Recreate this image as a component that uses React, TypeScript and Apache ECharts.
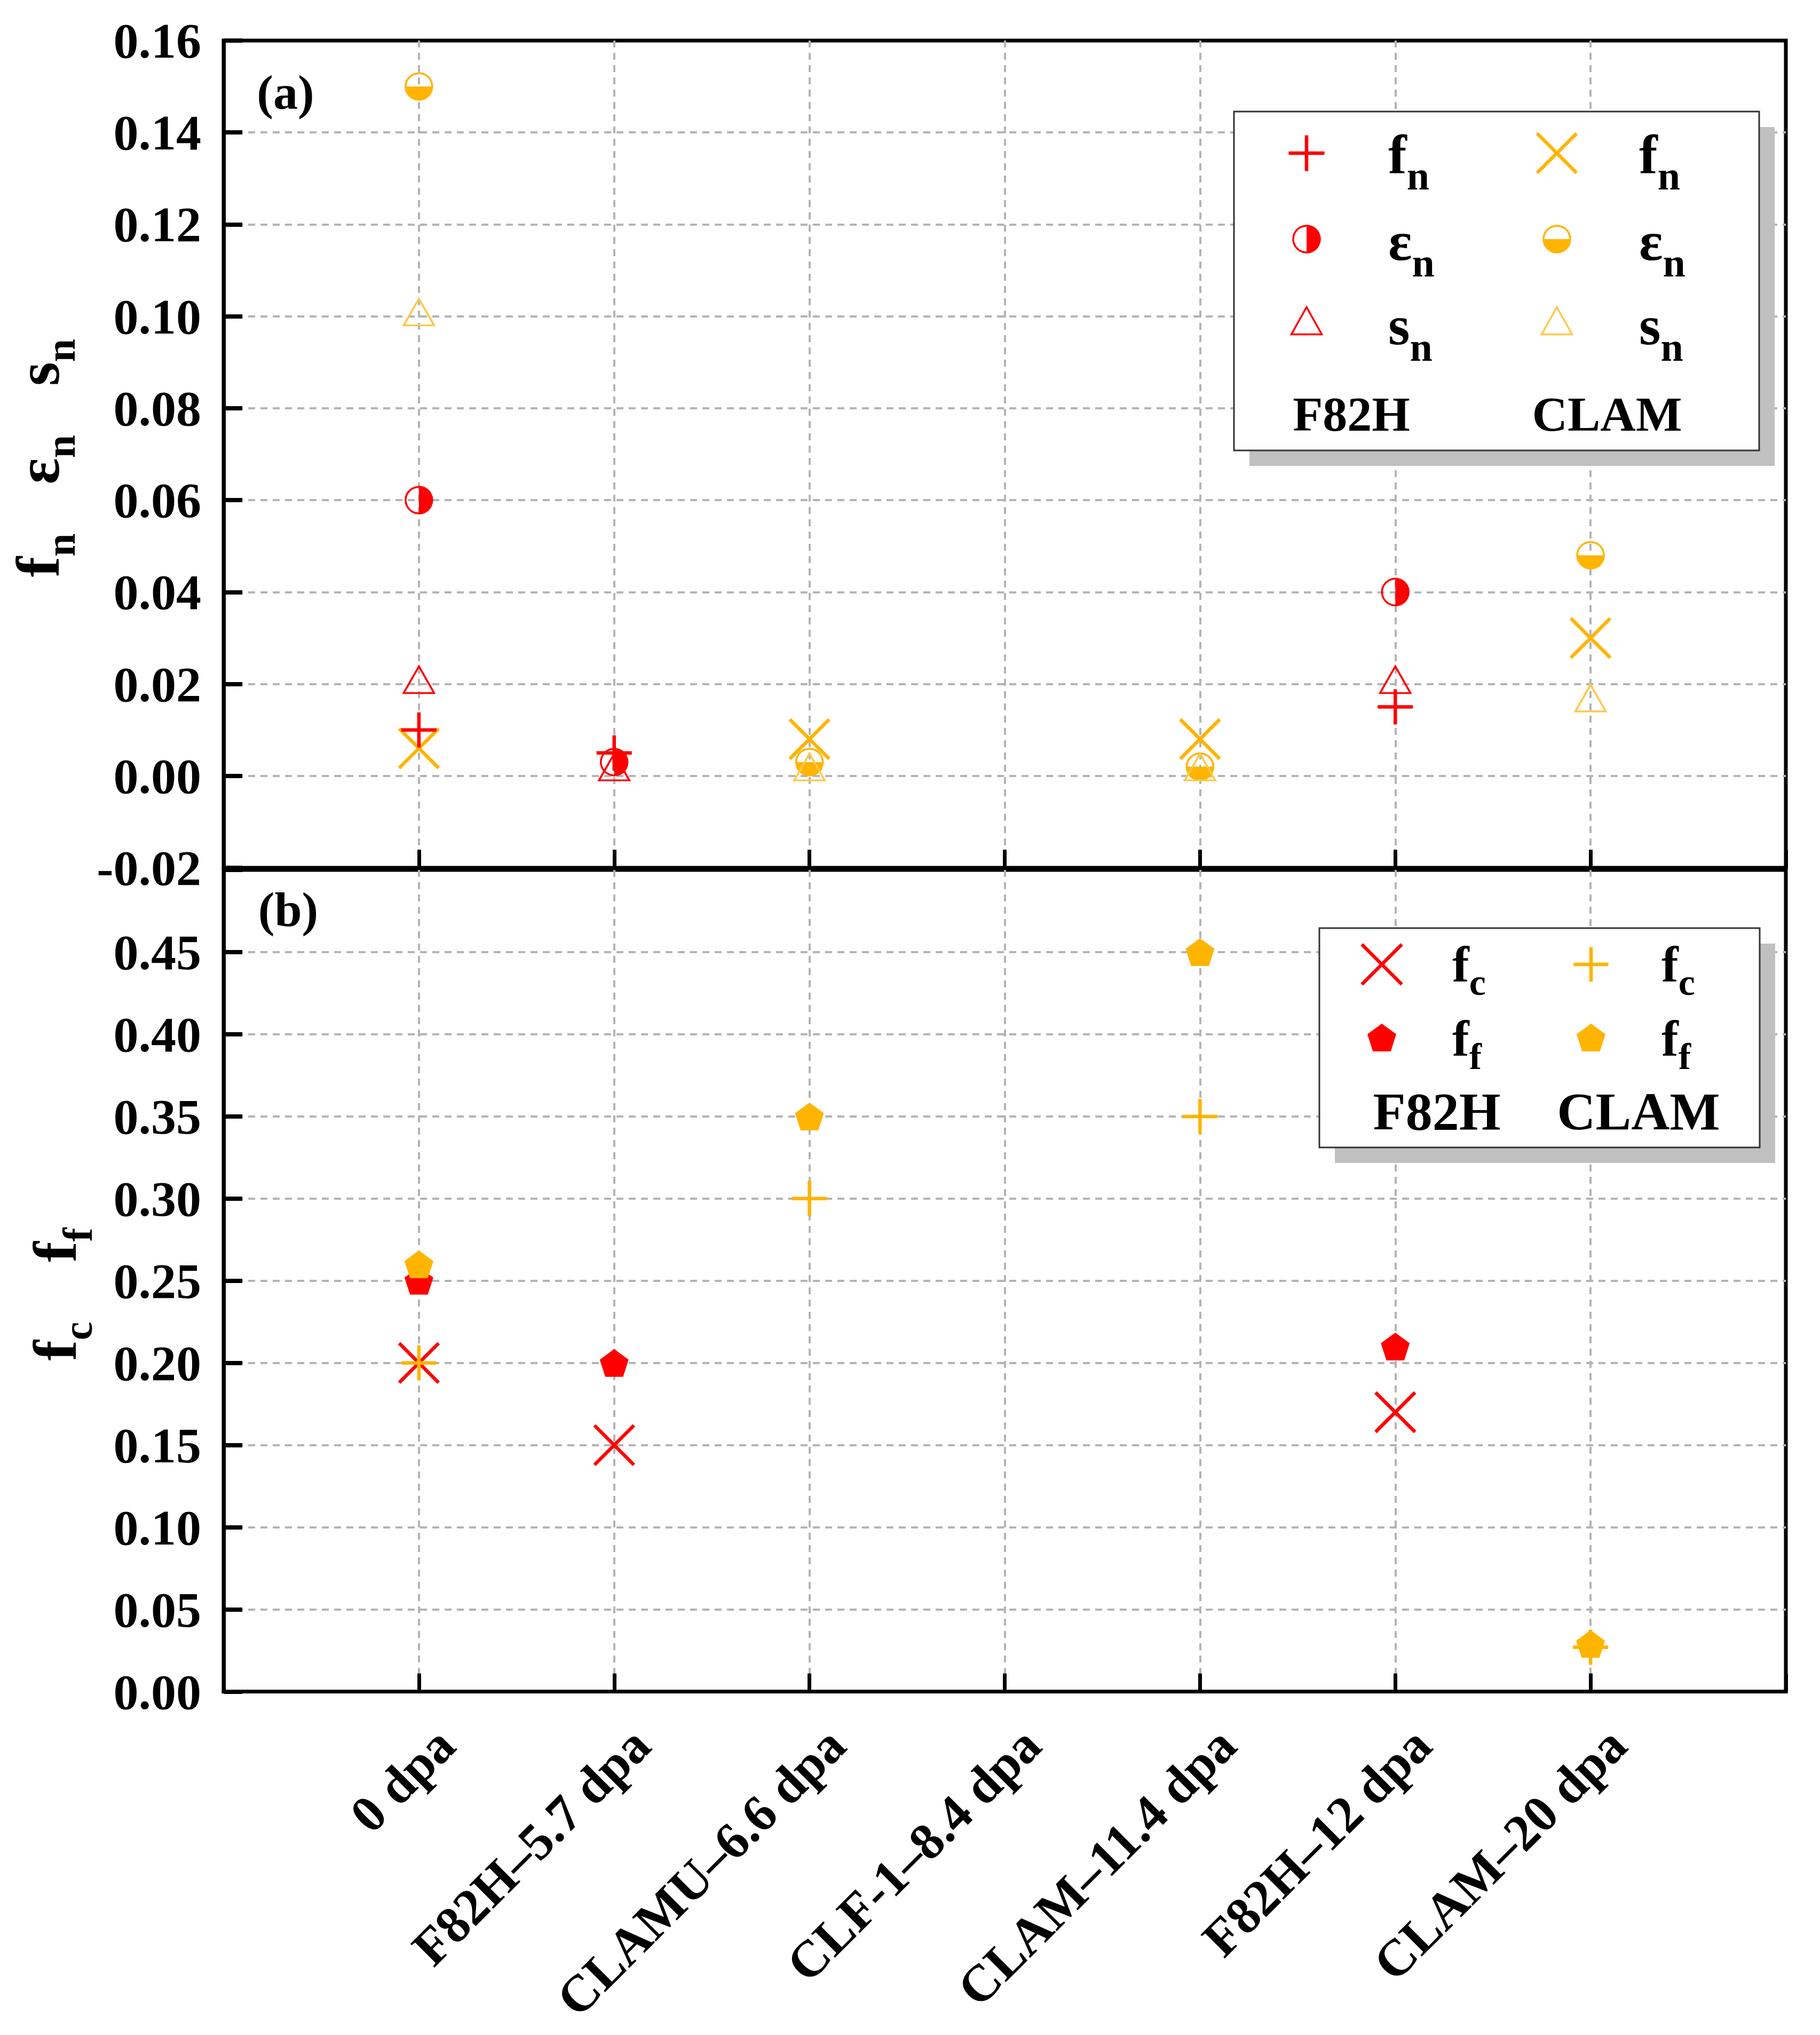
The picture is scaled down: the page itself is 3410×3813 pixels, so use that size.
"use client";
import React, { useEffect, useRef } from "react";
import * as echarts from "echarts";

const categories = [
  "0 dpa",
  "F82H\u20135.7 dpa",
  "CLAMU\u20136.6 dpa",
  "CLF-1\u20138.4 dpa",
  "CLAM\u201311.4 dpa",
  "F82H\u201312 dpa",
  "CLAM\u201320 dpa",
];

// panel (a) - null where there is no measurement
const f82hFn = [0.01, 0.005, null, null, null, 0.015, null];
const f82hEn = [0.06, 0.003, null, null, null, 0.04, null];
const f82hSn = [0.02, 0.001, null, null, null, 0.02, null];
const clamFn = [0.006, null, 0.008, null, 0.008, null, 0.03];
const clamEn = [0.15, null, 0.003, null, 0.002, null, 0.048];
const clamSn = [0.1, null, 0.001, null, 0.001, null, 0.016];

// panel (b)
const f82hFc = [0.2, 0.15, null, null, null, 0.17, null];
const f82hFf = [0.25, 0.2, null, null, null, 0.21, null];
const clamFc = [0.2, null, 0.3, null, 0.35, null, 0.027];
const clamFf = [0.26, null, 0.35, null, 0.45, null, 0.029];

const yRangeA = [-0.02, 0.16, 0.02];
const yRangeB = [0, 0.5, 0.05];

const RED = "#ff0000";
const ORANGE = "#ffb400";
const ORANGE_LIGHT = "#ffc84a";
const SERIF = "'Liberation Serif', 'Times New Roman', serif";

const PLUS = "path://M0,-1L0,1M-1,0L1,0";
const CROSS = "path://M-1,-1L1,1M-1,1L1,-1";
const TRI = "path://M0,-1L1,1L-1,1Z";
const PENTA = "path://M0,-1L0.951,-0.309L0.588,0.809L-0.588,0.809L-0.951,-0.309Z";

const toPoints = (vals: (number | null)[]) =>
  vals.map((v, i) => (v == null ? null : [i + 1, v])).filter((p) => p !== null);

const stroked = (color: string, width: number) => ({
  color: "rgba(0,0,0,0)",
  borderColor: color,
  borderWidth: width,
  opacity: 1,
});

function scatter(data: (number | null)[], gi: number, symbol: string, size: any, itemStyle: any, extra: any = {}) {
  return {
    type: "scatter",
    xAxisIndex: gi,
    yAxisIndex: gi,
    data: toPoints(data),
    symbol,
    symbolSize: size,
    itemStyle,
    silent: true,
    ...extra,
  };
}

// half filled circle, filled from start to end angle
function halfCircle(data: (number | null)[], color: string, start: number, end: number) {
  return {
    type: "custom",
    xAxisIndex: 0,
    yAxisIndex: 0,
    encode: { x: 0, y: 1 },
    data: toPoints(data),
    silent: true,
    renderItem: (_p: any, api: any) => {
      const c = api.coord([api.value(0), api.value(1)]);
      return {
        type: "group",
        children: [
          { type: "sector", shape: { cx: c[0], cy: c[1], r0: 0, r: 25, startAngle: start, endAngle: end }, style: { fill: color } },
          { type: "circle", shape: { cx: c[0], cy: c[1], r: 25 }, style: { fill: "none", stroke: color, lineWidth: 3.5 } },
        ],
      };
    },
  };
}

// ---- legend helpers (graphic) ----
const Z = 100;
const lineEl = (x1: number, y1: number, x2: number, y2: number, color: string, w: number) => ({
  type: "line",
  z: Z + 2,
  shape: { x1, y1, x2, y2 },
  style: { stroke: color, lineWidth: w },
});
const plusEl = (cx: number, cy: number, s: number, color: string) => [
  lineEl(cx - s / 2, cy, cx + s / 2, cy, color, 6.5),
  lineEl(cx, cy - s / 2, cx, cy + s / 2, color, 6.5),
];
const crossEl = (cx: number, cy: number, s: number, color: string) => [
  lineEl(cx - s / 2, cy - s / 2, cx + s / 2, cy + s / 2, color, 6.5),
  lineEl(cx - s / 2, cy + s / 2, cx + s / 2, cy - s / 2, color, 6.5),
];
const halfEl = (cx: number, cy: number, color: string, start: number, end: number) => [
  { type: "sector", z: Z + 2, shape: { cx, cy, r0: 0, r: 25, startAngle: start, endAngle: end }, style: { fill: color } },
  { type: "circle", z: Z + 2, shape: { cx, cy, r: 25 }, style: { fill: "none", stroke: color, lineWidth: 3.5 } },
];
const triEl = (cx: number, cy: number, w: number, h: number, color: string) => ({
  type: "polygon",
  z: Z + 2,
  shape: { points: [[cx, cy - h / 2], [cx + w / 2, cy + h / 2], [cx - w / 2, cy + h / 2]] },
  style: { fill: "none", stroke: color, lineWidth: 3.5 },
});
const pentaEl = (cx: number, cy: number, w: number, h: number, color: string) => {
  const unit = [[0, -1], [0.951, -0.309], [0.588, 0.809], [-0.588, 0.809], [-0.951, -0.309]];
  return {
    type: "polygon",
    z: Z + 2,
    shape: { points: unit.map(([px, py]) => [cx + (px * w) / 1.902, cy + ((py + 0.0955) * h) / 1.809]) },
    style: { fill: color },
  };
};

const legendRichA = {
  m: { fontFamily: SERIF, fontWeight: "bold", fontSize: 104, lineHeight: 157, verticalAlign: "middle", fill: "#000" },
  s: { fontFamily: SERIF, fontWeight: "bold", fontSize: 76, lineHeight: 76, verticalAlign: "bottom", fill: "#000" },
};
const legendRichB = {
  m: { fontFamily: SERIF, fontWeight: "bold", fontSize: 95, lineHeight: 137, verticalAlign: "middle", fill: "#000" },
  s: { fontFamily: SERIF, fontWeight: "bold", fontSize: 70, lineHeight: 70, verticalAlign: "bottom", fill: "#000" },
};
const titleRich = {
  m: { fontFamily: SERIF, fontWeight: "bold", fontSize: 115, lineHeight: 163, verticalAlign: "middle", fill: "#000" },
  s: { fontFamily: SERIF, fontWeight: "bold", fontSize: 78, lineHeight: 78, verticalAlign: "bottom", fill: "#000" },
  g: { width: 92, fontSize: 115, lineHeight: 163 },
  h: { width: 112, fontSize: 115, lineHeight: 163 },
};

const subText = (x: number, y: number, main: string, sub: string, rich: any) => ({
  type: "text",
  z: Z + 2,
  x,
  y,
  style: { text: `{m|${main}}{s|${sub}}`, rich, align: "left", verticalAlign: "middle" },
});
const plainText = (x: number, y: number, text: string, size: number) => ({
  type: "text",
  z: Z + 2,
  x,
  y,
  style: { text, fontFamily: SERIF, fontWeight: "bold", fontSize: size, fill: "#000", align: "center", verticalAlign: "middle" },
});
const legendBox = (x: number, y: number, w: number, h: number) => [
  { type: "rect", z: Z, shape: { x: x + 29, y: y + 29, width: w, height: h }, style: { fill: "#c0c0c0" } },
  { type: "rect", z: Z + 1, shape: { x, y, width: w, height: h }, style: { fill: "#fff", stroke: "#333", lineWidth: 3 } },
];

export default function App() {
  const ref = useRef<HTMLDivElement | null>(null);

  useEffect(() => {
    document.body.style.margin = "0";
    if (!ref.current) return;
    const chart = echarts.init(ref.current, undefined, { renderer: "svg" });

    const labelFont = { fontFamily: SERIF, fontWeight: "bold" as const, fontSize: 94, color: "#000" };
    const splitLine = {
      show: true,
      showMinLine: false,
      showMaxLine: false,
      lineStyle: { type: [13, 10], color: "#b4b4b4", width: 4 },
    };
    const xAxisBase = (gi: number) => ({
      type: "value",
      gridIndex: gi,
      min: 0,
      max: 8,
      interval: 1,
      axisLine: { show: true, onZero: false, lineStyle: { color: "#000", width: 7 } },
      axisTick: { show: true, inside: true, length: 34, lineStyle: { color: "#000", width: 7 } },
      splitLine,
    });
    const yAxisBase = (gi: number, r: number[], fmt: (v: number) => string) => ({
      type: "value",
      gridIndex: gi,
      min: r[0],
      max: r[1],
      interval: r[2],
      axisLine: { show: true, onZero: false, lineStyle: { color: "#000", width: 7 } },
      axisTick: { show: true, inside: true, length: 35, lineStyle: { color: "#000", width: 8 } },
      axisLabel: { ...labelFont, margin: 42, formatter: fmt },
      splitLine,
    });
    const fmt2 = (v: number) => (Math.abs(v) < 1e-9 ? "0.00" : v.toFixed(2));

    const graphic: any[] = [
      ...legendBox(2312, 209, 984, 635),
      ...plusEl(2448, 287, 67, RED),
      ...crossEl(2917, 287, 74, ORANGE),
      ...halfEl(2448, 448, RED, -Math.PI / 2, Math.PI / 2),
      ...halfEl(2917, 448, ORANGE, 0, Math.PI),
      triEl(2448, 601, 57, 51, RED),
      triEl(2917, 601, 57, 51, ORANGE_LIGHT),
      subText(2601, 288, "f", "n", legendRichA),
      subText(3071, 288, "f", "n", legendRichA),
      subText(2601, 451, "\u03b5", "n", legendRichA),
      subText(3071, 451, "\u03b5", "n", legendRichA),
      subText(2601, 609, "s", "n", legendRichA),
      subText(3071, 609, "s", "n", legendRichA),
      plainText(2532, 776, "F82H", 92),
      plainText(3011, 776, "CLAM", 92),

      ...legendBox(2472, 1739, 825, 411),
      ...crossEl(2589, 1807, 75, RED),
      ...plusEl(2981, 1807, 65, ORANGE),
      pentaEl(2589, 1944, 54, 52, RED),
      pentaEl(2981, 1944, 54, 52, ORANGE),
      subText(2721, 1807, "f", "c", legendRichB),
      subText(3113, 1807, "f", "c", legendRichB),
      subText(2721, 1946, "f", "f", legendRichB),
      subText(3113, 1946, "f", "f", legendRichB),
      plainText(2692, 2082, "F82H", 100),
      plainText(3070, 2082, "CLAM", 100),

      plainText(535, 173, "(a)", 92),
      plainText(540, 1704, "(b)", 92),
      {
        type: "text",
        z: Z,
        x: 71,
        y: 858,
        rotation: Math.PI / 2,
        style: { text: "{m|f}{s|n}{g| }{m|\u03b5}{s|n}{g| }{m|s}{s|n}", rich: titleRich, align: "center", verticalAlign: "middle" },
      },
      {
        type: "text",
        z: Z,
        x: 103,
        y: 2425,
        rotation: Math.PI / 2,
        style: { text: "{m|f}{s|c}{h| }{m|f}{s|f}", rich: titleRich, align: "center", verticalAlign: "middle" },
      },
    ];

    chart.setOption({
      animation: false,
      backgroundColor: "#fff",
      grid: [
        { left: 419, right: 64, top: 76, height: 1550, show: true, borderColor: "#000", borderWidth: 7 },
        { left: 419, right: 64, top: 1630, height: 1543, show: true, borderColor: "#000", borderWidth: 7 },
      ],
      xAxis: [
        { ...xAxisBase(0), axisLabel: { show: false } },
        {
          ...xAxisBase(1),
          axisLabel: {
            ...labelFont,
            fontSize: 97,
            rotate: 45,
            margin: 34,
            verticalAlign: "top",
            lineHeight: 142,
            formatter: (v: number) => (v >= 1 && v <= categories.length ? categories[v - 1] : ""),
          },
        },
      ],
      yAxis: [
        yAxisBase(0, yRangeA, fmt2),
        yAxisBase(1, yRangeB, (v: number) => (v > yRangeB[1] - 1e-6 ? "" : fmt2(v))),
      ],
      series: [
        // panel (a)
        scatter(clamSn, 0, TRI, [57, 50], stroked(ORANGE_LIGHT, 3.5), { symbolOffset: [0, -8] }),
        halfCircle(clamEn, ORANGE, 0, Math.PI),
        scatter(clamFn, 0, CROSS, 74, stroked(ORANGE, 6.5)),
        scatter(f82hSn, 0, TRI, [57, 50], stroked(RED, 3.5), { symbolOffset: [0, -8] }),
        halfCircle(f82hEn, RED, -Math.PI / 2, Math.PI / 2),
        scatter(f82hFn, 0, PLUS, 66, stroked(RED, 6.5)),
        // panel (b)
        scatter(f82hFf, 1, PENTA, [54, 52], { color: RED, opacity: 1 }),
        scatter(clamFf, 1, PENTA, [54, 52], { color: ORANGE, opacity: 1 }),
        scatter(f82hFc, 1, CROSS, 74, stroked(RED, 6.5)),
        scatter(clamFc, 1, PLUS, 66, stroked(ORANGE, 6.5)),
      ],
      graphic,
    });

    const resize = () => chart.resize();
    window.addEventListener("resize", resize);
    return () => {
      window.removeEventListener("resize", resize);
      chart.dispose();
    };
  }, []);

  return <div ref={ref} style={{ width: 3410, height: 3813 }} />;
}
